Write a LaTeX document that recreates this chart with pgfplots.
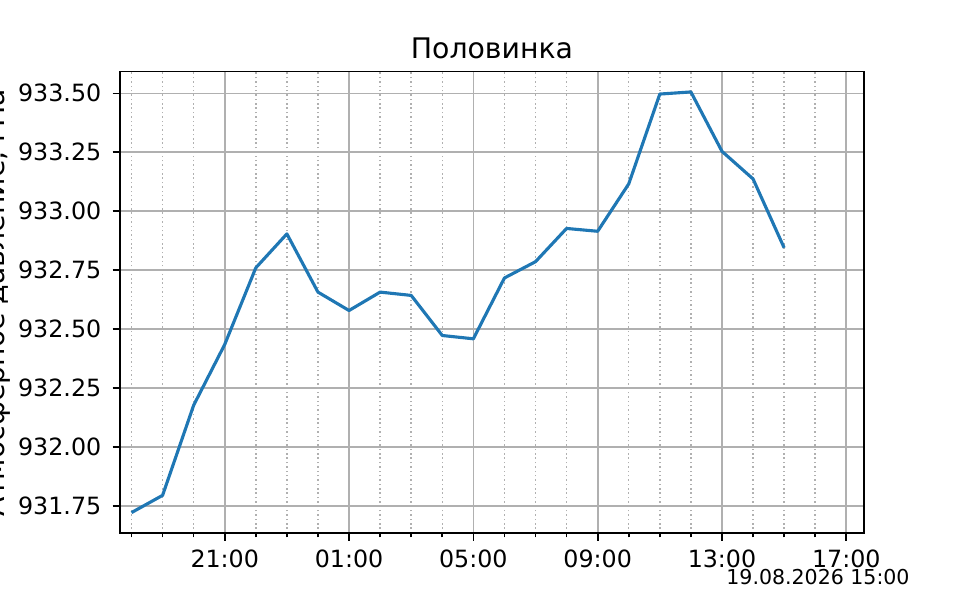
\documentclass[border=0pt]{standalone}
\usepackage{fontspec}
\setmainfont{DejaVu Sans}
\usepackage{pgfplots}
\pgfplotsset{compat=1.18}

\definecolor{mplblue}{HTML}{1F77B4}
\definecolor{gridgray}{HTML}{B0B0B0}

\begin{document}
\begin{tikzpicture}
\useasboundingbox (0,0) rectangle (460.8pt,288pt);
\begin{axis}[
  at={(57.6pt,32.0pt)}, anchor=south west,
  scale only axis,
  width=357.12pt, height=221.6pt,
  xmin=-0.37, xmax=23.57,
  ymin=931.634, ymax=933.592,
  xtick={3,7,11,15,19,23},
  xticklabels={21:00,01:00,05:00,09:00,13:00,17:00},
  minor xtick={0,1,2,4,5,6,8,9,10,12,13,14,16,17,18,20,21,22},
  ytick={931.75,932.00,932.25,932.50,932.75,933.00,933.25,933.50},
  yticklabels={931.75,932.00,932.25,932.50,932.75,933.00,933.25,933.50},
  xtick pos=bottom, ytick pos=left,
  tick align=outside,
  major tick length=3.5pt, minor tick length=2pt,
  every tick/.style={black, line width=0.8pt},
  axis line style={black, line width=0.8pt},
  grid=both,
  major grid style={gridgray, line width=0.8pt},
  minor grid style={gridgray, line width=0.7pt, dash pattern=on 0.7pt off 1.4pt},
  ticklabel style={font=\fontsize{11.4}{13}\selectfont},
  xticklabel style={anchor=base, yshift=-12.9pt},
  yticklabel style={anchor=east, inner sep=0pt, xshift=-5.3pt},
  title={Половинка},
  title style={at={(0.5,1)}, anchor=base, yshift=0.2pt, inner sep=0pt,
    font=\fontsize{13.6}{16}\selectfont},
  ylabel={Атмосферное давление, гПа},
  ylabel style={at={(rel axis cs:-0.1552,0.5)}, anchor=base, inner sep=0pt,
    font=\fontsize{13.6}{16}\selectfont},
]
\addplot[mplblue, line width=1.5pt, line join=round] coordinates {
  (0,931.722) (1,931.795) (2,932.177) (3,932.435) (4,932.760)
  (5,932.904) (6,932.657) (7,932.579) (8,932.657) (9,932.643)
  (10,932.473) (11,932.459) (12,932.717) (13,932.786) (14,932.927)
  (15,932.915) (16,933.116) (17,933.497) (18,933.506) (19,933.254)
  (20,933.137) (21,932.845)
};
\end{axis}
\node[anchor=base east, inner sep=0pt, font=\fontsize{9.85}{12}\selectfont]
  at (436.8pt,7.2pt) {19.08.2026 15:00};
\end{tikzpicture}
\end{document}
